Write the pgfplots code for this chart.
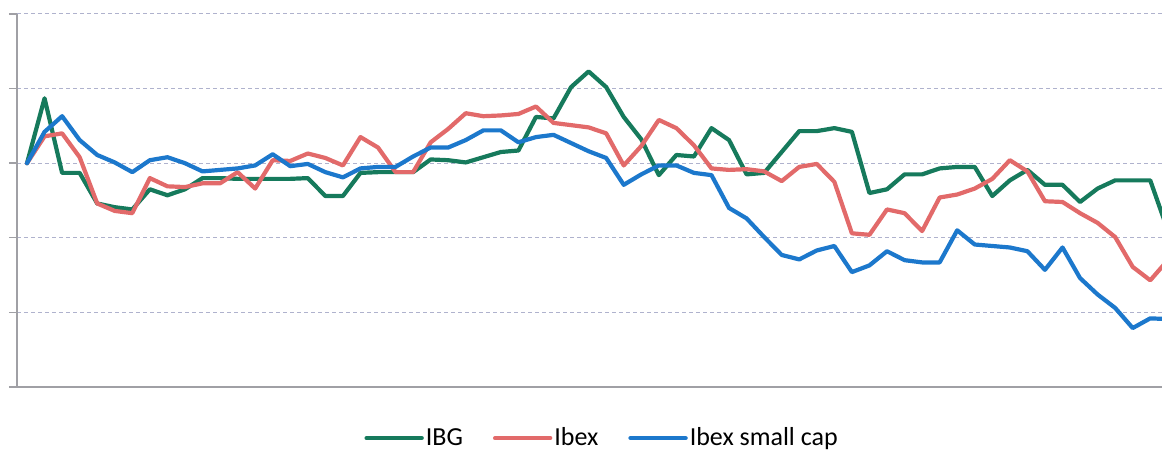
\documentclass[border=0pt]{standalone}
\usepackage{fontspec}
\setmainfont{Carlito}
\usepackage{pgfplots}
\usepackage{pgfplotstable}
\pgfplotsset{compat=1.18}
\definecolor{ibg}{RGB}{22,122,92}
\definecolor{ibex}{RGB}{226,106,106}
\definecolor{ibexsc}{RGB}{28,120,204}
\definecolor{gridc}{RGB}{175,178,205}
\definecolor{axc}{RGB}{160,160,165}
\pgfplotstableread{
i g r b
0 100.0 100.0 100.0
1 108.7 103.6 104.2
2 98.7 104.0 106.3
3 98.7 100.8 103.1
4 94.6 94.6 101.1
5 94.1 93.6 100.1
6 93.8 93.3 98.8
7 96.5 98.0 100.4
8 95.7 96.9 100.8
9 96.5 96.8 100.0
10 98.0 97.3 98.9
11 98.0 97.3 99.1
12 97.9 98.8 99.3
13 97.9 96.6 99.7
14 97.9 100.4 101.2
15 97.9 100.3 99.6
16 98.0 101.3 99.9
17 95.6 100.7 98.8
18 95.6 99.7 98.1
19 98.7 103.5 99.3
20 98.8 102.1 99.5
21 98.8 98.8 99.5
22 98.8 98.8 100.9
23 100.5 102.8 102.1
24 100.4 104.6 102.1
25 100.1 106.7 103.1
26 100.8 106.3 104.4
27 101.5 106.4 104.4
28 101.7 106.6 102.8
29 106.2 107.6 103.5
30 106.0 105.4 103.8
31 110.2 105.1 102.7
32 112.3 104.8 101.6
33 110.2 104.0 100.7
34 106.2 99.7 97.1
35 103.2 102.3 98.5
36 98.4 105.8 99.7
37 101.1 104.7 99.7
38 100.9 102.4 98.7
39 104.7 99.3 98.4
40 103.1 99.1 94.0
41 98.5 99.2 92.6
42 98.7 98.9 90.1
43 101.5 97.6 87.7
44 104.3 99.5 87.1
45 104.3 99.9 88.3
46 104.7 97.5 88.9
47 104.2 90.6 85.4
48 96.0 90.4 86.3
49 96.5 93.8 88.2
50 98.5 93.3 87.0
51 98.5 90.9 86.7
52 99.3 95.4 86.7
53 99.5 95.8 91.0
54 99.5 96.6 89.1
55 95.6 97.9 88.9
56 97.7 100.4 88.7
57 99.1 98.9 88.2
58 97.1 94.9 85.7
59 97.1 94.8 88.7
60 94.8 93.3 84.6
61 96.6 92.0 82.4
62 97.7 90.1 80.6
63 97.7 86.1 77.9
64 97.7 84.3 79.2
65 91.0 87.0 79.1
}\data
\begin{document}
\begin{tikzpicture}
\begin{axis}[
  name=ax,
  scale only axis,
  width=572.5pt, height=186.5pt,
  xmin=-0.57, xmax=64.67,
  ymin=70, ymax=120,
  axis x line=bottom, axis y line=left,
  axis line style={-, draw=axc, line width=0.7pt},
  xtick=\empty,
  ytick={70,80,90,100,110,120},
  yticklabels={},
  tick align=outside,
  major tick length=4pt,
  y tick style={draw=axc, line width=0.7pt},
  ymajorgrids,
  grid style={draw=gridc, line width=0.5pt, dash pattern=on 2pt off 1.5pt},
  legend columns=3,
  legend style={draw=none, fill=none, font=\fontsize{13}{15}\selectfont,
    at={(axis description cs:0.511,-0.137)}, anchor=center,
    /tikz/every even column/.append style={column sep=14pt},
    nodes={inner sep=1pt}},
  legend image code/.code={\draw[#1, line width=2.2pt] (0pt,0pt) -- (27.5pt,0pt);},
  every axis plot/.append style={line width=2.1pt, line join=round, line cap=round, mark=none},
]
\addplot[ibg] table[x=i, y=g] {\data};
\addlegendentry{IBG}
\addplot[ibex] table[x=i, y=r] {\data};
\addlegendentry{Ibex}
\addplot[ibexsc] table[x=i, y=b] {\data};
\addlegendentry{Ibex small cap}
\end{axis}
\pgfresetboundingbox
\path ([xshift=-8.5pt,yshift=-32pt]ax.south west) rectangle ([yshift=7pt]ax.north east);
\end{tikzpicture}
\end{document}
